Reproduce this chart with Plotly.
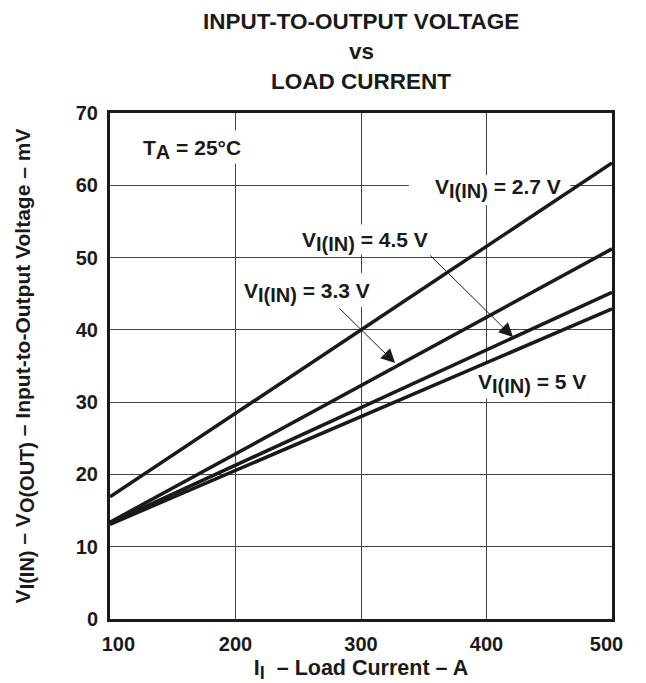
import plotly.graph_objects as go

load_current = [100, 200, 300, 400, 500]
v_27 = [16.9, 28.45, 40.0, 51.55, 63.1]
v_33 = [13.4, 22.85, 32.3, 41.75, 51.2]
v_45 = [13.3, 21.3, 29.25, 37.2, 45.2]
v_50 = [13.1, 20.55, 28.0, 35.45, 42.9]
series_names = ["V(IN)=2.7 V", "V(IN)=3.3 V", "V(IN)=4.5 V", "V(IN)=5 V"]
x_ticks = [100, 200, 300, 400, 500]
x_ticktext = ["\u00a0\u00a0\u00a0100", "200", "300", "400", "500\u00a0\u00a0"]
y_ticks = [0, 10, 20, 30, 40, 50, 60, 70]

FONT = "Liberation Sans, Arial, Helvetica, sans-serif"
INK = "#1a1a1a"
X_RANGE = [100, 500]
Y_RANGE = [0, 70]
PLOT_W, PLOT_H = 507, 506  # plot area size in px


def sub(s, size=20):
    return '<sub><span style="font-size:%spx">%s</span></sub>' % (size, s)


fig = go.Figure()
for name, ys in zip(series_names, [v_27, v_33, v_45, v_50]):
    fig.add_trace(go.Scatter(x=load_current, y=ys, mode="lines", name=name,
                             line=dict(color=INK, width=3.5), showlegend=False))

ann = []
for txt, yp in [("INPUT-TO-OUTPUT VOLTAGE", 22), ("vs", 51), ("LOAD CURRENT", 82)]:
    ann.append(dict(text="<b>%s</b>" % txt, xref="paper", yref="paper",
                    x=0.5, y=(619 - yp) / 506.0, xanchor="center", yanchor="middle",
                    showarrow=False, font=dict(family=FONT, size=22.5, color=INK)))

px_x = PLOT_W / (X_RANGE[1] - X_RANGE[0])
px_y = PLOT_H / (Y_RANGE[1] - Y_RANGE[0])

# label: text, x, y, anchor, mask centre (x, y), mask size px (w, h)
labels = [
    ("<b>T" + sub("A") + " = 25°C</b>", 125, 65.0, "left", (166.0, 65.3), (105, 33)),
    ("<b>V" + sub("I(IN)") + " = 2.7 V</b>", 409.0, 59.5, "center", (402.5, 59.3), (163, 30)),
    ("<b>V" + sub("I(IN)") + " = 4.5 V</b>", 303.0, 52.2, "center", (302.4, 52.5), (137, 30)),
    ("<b>V" + sub("I(IN)") + " = 3.3 V</b>", 256.6, 45.2, "center", (256.6, 45.5), (137, 34)),
    ("<b>V" + sub("I(IN)") + " = 5 V</b>", 436.0, 32.6, "center", (433.7, 33.0), (120, 36)),
]
lbl_font = dict(family=FONT, size=21, color=INK)
shapes = []
for txt, x, y, anc, (mx, my), (mw, mh) in labels:
    ann.append(dict(text=txt, x=x, y=y, xanchor=anc, yanchor="middle",
                    showarrow=False, font=lbl_font))
    shapes.append(dict(type="rect", xref="x", yref="y", layer="between",
                       x0=mx - mw / 2 / px_x, x1=mx + mw / 2 / px_x,
                       y0=my - mh / 2 / px_y, y1=my + mh / 2 / px_y,
                       fillcolor="white", line=dict(width=0)))

for (x0, y0, x1, y1) in [(281.5, 43.2, 327.2, 35.4), (354.0, 50.5, 421.1, 39.0)]:
    ann.append(dict(text="", x=x1, y=y1, ax=x0, ay=y0, axref="x", ayref="y",
                    showarrow=True, arrowhead=2, arrowsize=2.8, arrowwidth=1,
                    arrowcolor=INK, standoff=0))

axis_font = dict(family=FONT, size=20, color=INK)
fig.update_layout(
    width=638, height=683,
    margin=dict(l=102, r=29, t=105, b=72),
    paper_bgcolor="white", plot_bgcolor="white",
    font=dict(family=FONT, size=20, color=INK),
    annotations=ann, shapes=shapes,
    xaxis=dict(range=X_RANGE, tickvals=x_ticks, ticktext=["<b>%s</b>" % t for t in x_ticktext],
               showgrid=True, gridcolor="#444", gridwidth=1.2, zeroline=False,
               showline=True, linecolor=INK, linewidth=3, mirror=True, ticks="",
               ticklabelstandoff=5, tickfont=axis_font,
               title=dict(text="<b>I" + sub("I", 18) + "  – Load Current – A</b>", standoff=6,
                          font=dict(family=FONT, size=21.5, color=INK))),
    yaxis=dict(range=Y_RANGE, tickvals=y_ticks, ticktext=["<b>%d</b>" % v for v in y_ticks],
               showgrid=True, gridcolor="#444", gridwidth=1.2, zeroline=False,
               showline=True, linecolor=INK, linewidth=3, mirror=True, ticks="",
               ticklabelstandoff=5, tickfont=axis_font,
               title=dict(text="<b>V" + sub("I(IN)", 20) + " – V" + sub("O(OUT)", 20) +
                               " – Input-to-Output Voltage – mV</b>",
                          standoff=40, font=dict(family=FONT, size=21, color=INK))),
)

fig.write_html("out.html")
